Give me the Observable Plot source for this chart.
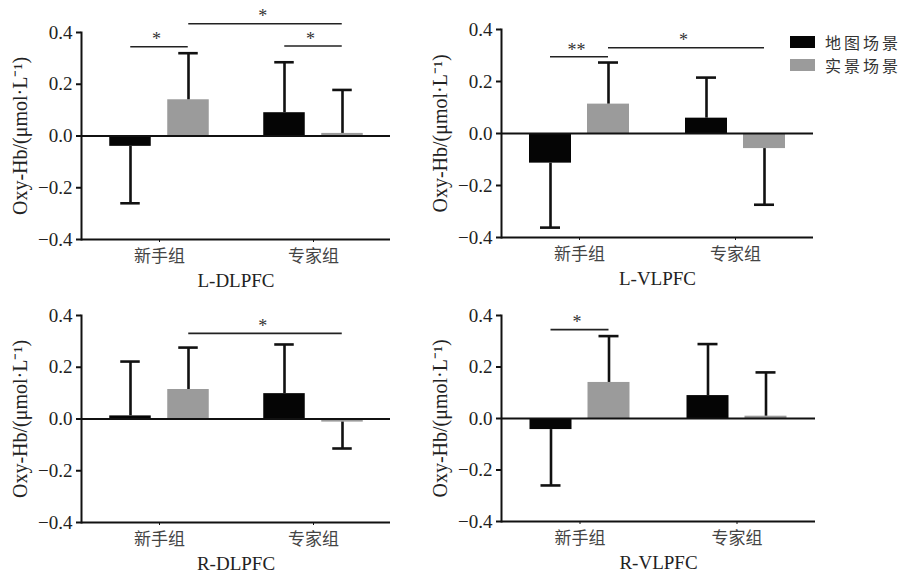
<!DOCTYPE html>
<html>
<head>
<meta charset="utf-8">
<script src="https://cdn.jsdelivr.net/npm/d3@7"></script>
<script src="https://cdn.jsdelivr.net/npm/@observablehq/plot@0.6"></script>
<style>
  html, body { margin: 0; padding: 0; background: #fff; }
  #chart { position: relative; width: 905px; height: 574px; overflow: hidden; background: #fff; }
  .panel { position: absolute; }
  .legend { position: absolute; left: 790px; top: 36px; font-family: "Noto Sans CJK SC", sans-serif; font-size: 16px; color: #333; letter-spacing: 3px; }
  .legend .row { display: flex; align-items: center; height: 12px; margin-bottom: 11px; }
  .legend .sw { width: 25px; height: 12px; margin-right: 10px; }
</style>
</head>
<body>
<div id="chart"></div>
<script>
// ---- data ----
const groups = ["新手组", "专家组"];
const scenes = ["地图场景", "实景场景"];
const sceneColors = ["#050505", "#9b9b9b"];
const regions = ["L-DLPFC", "L-VLPFC", "R-DLPFC", "R-VLPFC"];
// means / SD per region, per group [新手组, 专家组]
const mapMean  = [[-0.04, 0.09], [-0.114, 0.059], [0.012, 0.098], [-0.043, 0.089]];
const mapSD    = [[0.22, 0.195], [0.248, 0.156], [0.21, 0.19], [0.217, 0.2]];
const realMean = [[0.14, 0.01], [0.113, -0.058], [0.114, -0.012], [0.14, 0.009]];
const realSD   = [[0.18, 0.168], [0.16, 0.216], [0.162, 0.102], [0.18, 0.17]];
const yTicks = [-0.4, -0.2, 0, 0.2, 0.4];
const yDomain = [-0.4, 0.4];
const yLabel = "Oxy-Hb/(μmol·L⁻¹)";
// significance brackets
const brackets = [
  {region: "L-DLPFC", g1: "新手组", s1: "地图场景", g2: "新手组", s2: "实景场景", y: 0.345, label: "*"},
  {region: "L-DLPFC", g1: "新手组", s1: "实景场景", g2: "专家组", s2: "实景场景", y: 0.434, label: "*"},
  {region: "L-DLPFC", g1: "专家组", s1: "地图场景", g2: "专家组", s2: "实景场景", y: 0.348, label: "*"},
  {region: "L-VLPFC", g1: "新手组", s1: "地图场景", g2: "新手组", s2: "实景场景", y: 0.295, label: "**"},
  {region: "L-VLPFC", g1: "新手组", s1: "实景场景", g2: "专家组", s2: "实景场景", y: 0.33, label: "*"},
  {region: "R-DLPFC", g1: "新手组", s1: "实景场景", g2: "专家组", s2: "实景场景", y: 0.331, label: "*"},
  {region: "R-VLPFC", g1: "新手组", s1: "地图场景", g2: "新手组", s2: "实景场景", y: 0.345, label: "*"}
];

// ---- layout ----
const panelLayout = [
  {left: 0,   top: 0,   width: 420, height: 300, marginLeft: 81, marginRight: 30, marginTop: 32, marginBottom: 61},
  {left: 420, top: 0,   width: 420, height: 300, marginLeft: 81, marginRight: 27, marginTop: 29, marginBottom: 63},
  {left: 0,   top: 290, width: 420, height: 284, marginLeft: 81, marginRight: 30, marginTop: 25, marginBottom: 52},
  {left: 420, top: 290, width: 420, height: 284, marginLeft: 81, marginRight: 25, marginTop: 25, marginBottom: 53}
];
const sceneOffset = [-29, 29];
const barWidth = 42, capWidth = 20;
const serif = "'Liberation Serif', 'Times New Roman', 'Noto Sans CJK SC', serif";

const chart = document.getElementById("chart");

regions.forEach((region, ri) => {
  const L = panelLayout[ri];
  const bw = (L.width - L.marginLeft - L.marginRight) / groups.length;
  const rows = [];
  groups.forEach((g, gi) => {
    scenes.forEach((s, si) => {
      const mean = si === 0 ? mapMean[ri][gi] : realMean[ri][gi];
      const sd = si === 0 ? mapSD[ri][gi] : realSD[ri][gi];
      rows.push({group: g, scene: s, mean, sd, end: mean + Math.sign(mean) * sd});
    });
  });
  const bs = brackets.filter(b => b.region === region);
  const marks = [];
  scenes.forEach((s, si) => {
    marks.push(Plot.barY(rows.filter(r => r.scene === s), {
      x: "group", y: "mean", fill: "scene", dx: sceneOffset[si],
      insetLeft: (bw - barWidth) / 2, insetRight: (bw - barWidth) / 2
    }));
  });
  marks.push(Plot.ruleY([0], {stroke: "#111", strokeWidth: 2}));
  marks.push(Plot.ruleY([yDomain[0]], {stroke: "#111", strokeWidth: 2}));
  marks.push(Plot.frame({anchor: "left", stroke: "#111", strokeWidth: 2}));
  scenes.forEach((s, si) => {
    const sub = rows.filter(r => r.scene === s);
    marks.push(Plot.ruleX(sub, {x: "group", y1: "mean", y2: "end", dx: sceneOffset[si], stroke: "#111", strokeWidth: 2.6}));
    marks.push(Plot.tickY(sub, {x: "group", y: "end", dx: sceneOffset[si], stroke: "#111", strokeWidth: 2.6,
      insetLeft: (bw - capWidth) / 2, insetRight: (bw - capWidth) / 2}));
  });
  bs.forEach(b => {
    const o1 = sceneOffset[scenes.indexOf(b.s1)];
    const o2 = sceneOffset[scenes.indexOf(b.s2)];
    const span = groups.indexOf(b.g2) - groups.indexOf(b.g1);
    marks.push(Plot.ruleY([b], {x1: "g1", x2: "g2", y: "y", stroke: "#222", strokeWidth: 1.6,
      insetLeft: bw / 2 + o1, insetRight: bw / 2 - o2}));
    marks.push(Plot.text([b], {x: "g1", y: "y", text: "label", dx: (o1 + bw * span + o2) / 2 - 3, dy: -7,
      fontSize: 18, fill: "#333", lineAnchor: "middle"}));
  });
  marks.push(Plot.axisY({ticks: yTicks, tickFormat: d3.format(".1f"), tickSize: 5, tickPadding: 4,
    fontSize: 19, label: null, stroke: "#111", strokeWidth: 2, fill: "#222"}));
  marks.push(Plot.axisX({tickSize: 3, tickPadding: 7, fontSize: 17, label: null, stroke: "#111", fill: "#444",
    fontFamily: "'Noto Sans CJK SC', sans-serif", style: "letter-spacing:3px"}));
  marks.push(Plot.text([yLabel], {frameAnchor: "left", textAnchor: "middle", rotate: -90, dx: -61, fontSize: 20,
    fill: "#222", text: d => d}));
  marks.push(Plot.text([region], {frameAnchor: "bottom", dy: 41, fontSize: 19, fill: "#222", text: d => d, lineAnchor: "middle"}));

  const svg = Plot.plot({
    width: L.width, height: L.height,
    marginLeft: L.marginLeft, marginRight: L.marginRight, marginTop: L.marginTop, marginBottom: L.marginBottom,
    x: {domain: groups, padding: 0},
    y: {domain: yDomain},
    color: {domain: scenes, range: sceneColors},
    style: {fontFamily: serif, background: "transparent", overflow: "visible"},
    marks
  });
  const div = document.createElement("div");
  div.className = "panel";
  div.style.left = L.left + "px";
  div.style.top = L.top + "px";
  div.appendChild(svg);
  chart.appendChild(div);
});

// legend
const legend = document.createElement("div");
legend.className = "legend";
scenes.forEach((s, si) => {
  const row = document.createElement("div");
  row.className = "row";
  const sw = document.createElement("div");
  sw.className = "sw";
  sw.style.background = sceneColors[si];
  const t = document.createElement("span");
  t.textContent = s;
  row.appendChild(sw);
  row.appendChild(t);
  legend.appendChild(row);
});
chart.appendChild(legend);
</script>
</body>
</html>
